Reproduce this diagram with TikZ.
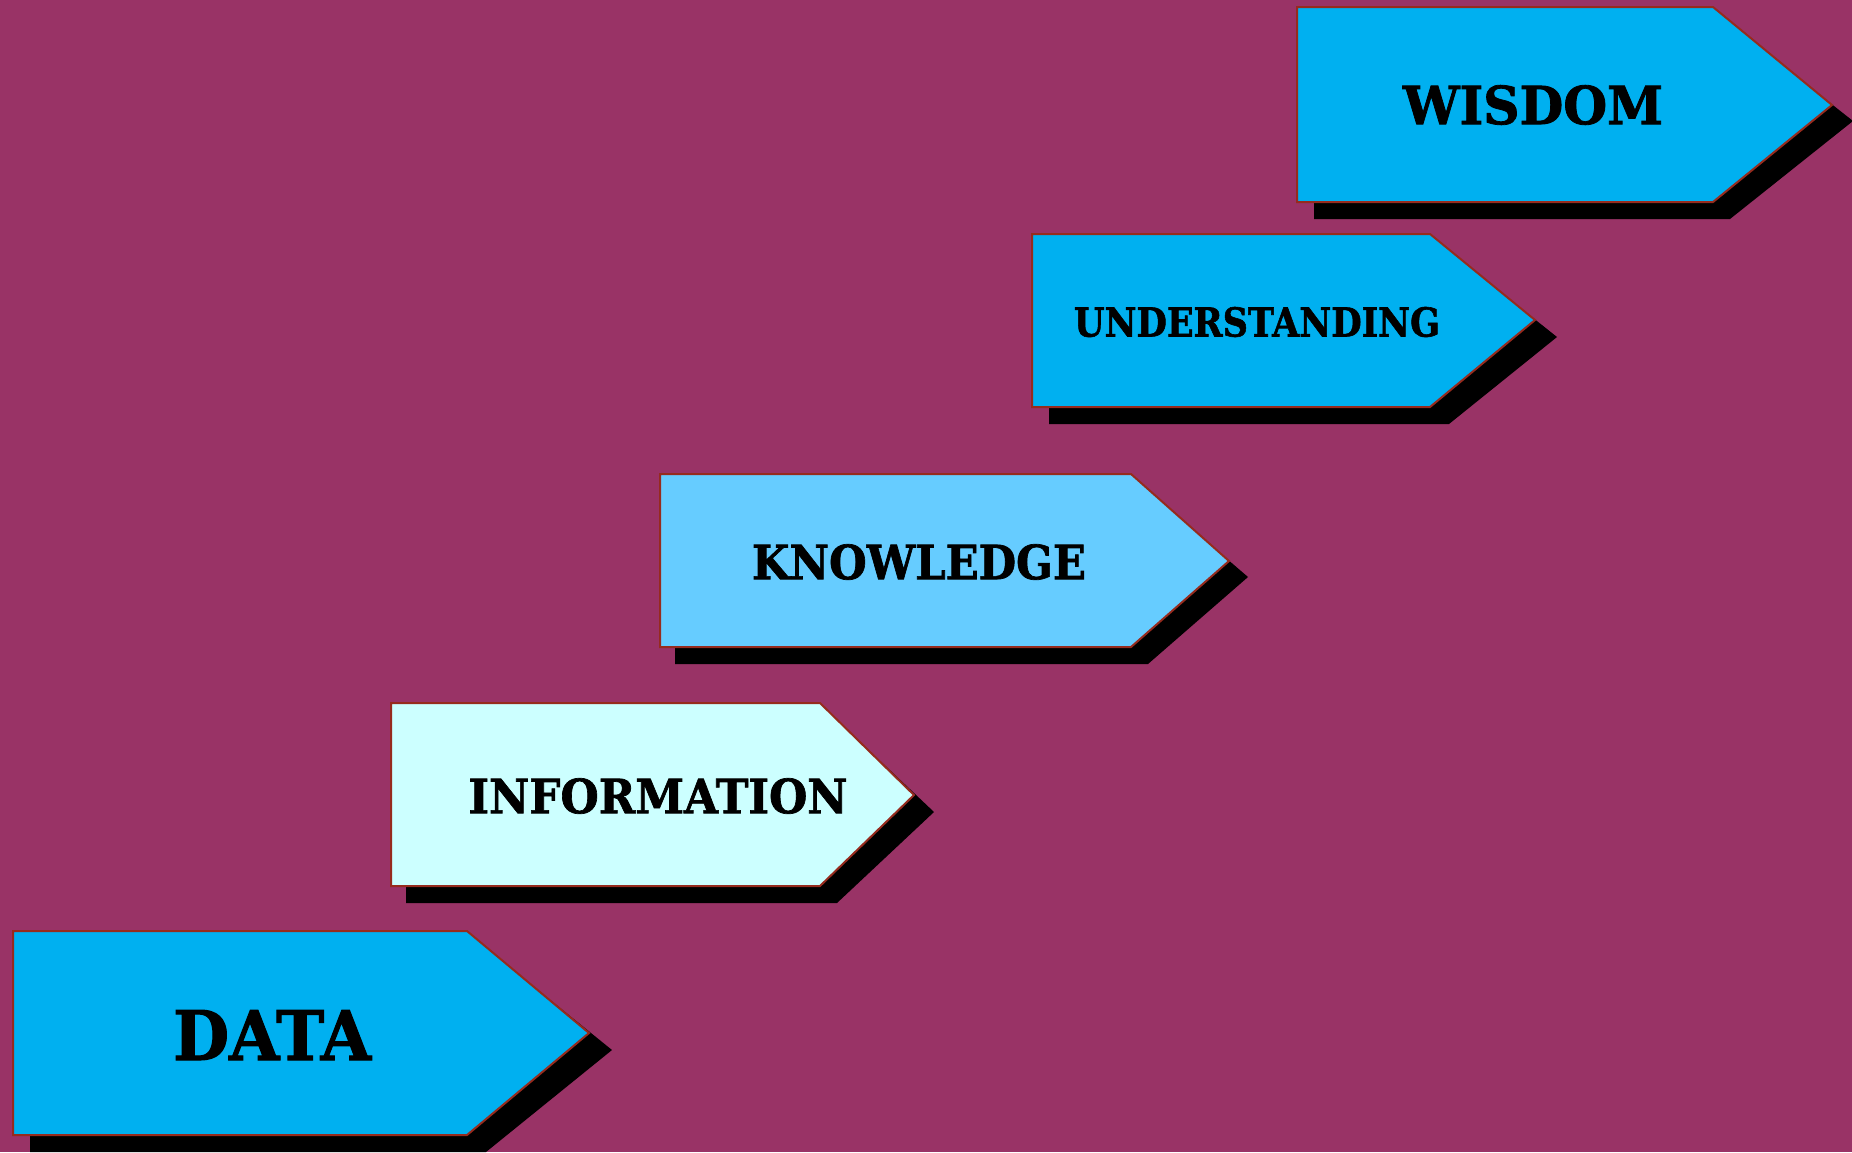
\documentclass[tikz,border=0pt]{standalone}
\usepackage{fontspec}
\setmainfont{DejaVu Serif}[BoldFeatures={FakeBold=1.5}]
\usepackage{graphicx}
\definecolor{bgplum}{HTML}{993366}
\definecolor{boxblue}{HTML}{00B0F0}
\definecolor{boxlight}{HTML}{66CCFF}
\definecolor{boxpale}{HTML}{CCFFFF}
\definecolor{edgered}{HTML}{962B1E}
\tikzset{
  shadowshape/.style={fill=black, draw=none},
  boxshape/.style={draw=edgered, line width=1pt, line join=miter},
  label/.style={inner sep=0pt, anchor=center, text=black, font=\bfseries}
}
% left, top, shoulder x, tip x, tip y, bottom
\newcommand{\pentpath}[6]{(#1,#2) -- (#3,#2) -- (#4,#5) -- (#3,#6) -- (#1,#6) -- cycle}
\begin{document}
\begin{tikzpicture}[x=0.5pt,y=-0.5pt]
\useasboundingbox (0,0) rectangle (1852,1152);
\clip (0,0) rectangle (1852,1152);
\fill[bgplum] (0,0) rectangle (1852,1152);
% WISDOM
\fill[shadowshape] \pentpath{1314}{24}{1730}{1853}{121}{219};
\filldraw[boxshape, fill=boxblue] \pentpath{1297}{7}{1713}{1832}{105}{202};
\node[label] (wisdom) at (1533,105) {\resizebox{130pt}{19.5pt}{WISDOM}};
% UNDERSTANDING
\fill[shadowshape] \pentpath{1049}{251}{1449}{1557}{337}{424};
\filldraw[boxshape, fill=boxblue] \pentpath{1032}{234}{1430}{1535}{320}{407};
\node[label] (understanding) at (1257,322) {\resizebox{183pt}{14.8pt}{UNDERSTANDING}};
% KNOWLEDGE
\fill[shadowshape] \pentpath{675}{491}{1148}{1248}{577}{664};
\filldraw[boxshape, fill=boxlight] \pentpath{660}{474}{1131}{1229}{561}{647};
\node[label] (knowledge) at (919,562) {\resizebox{167pt}{17.5pt}{KNOWLEDGE}};
% INFORMATION
\fill[shadowshape] \pentpath{406}{720}{837}{934}{812}{903};
\filldraw[boxshape, fill=boxpale] \pentpath{391}{703}{820}{914}{795}{886};
\node[label] (information) at (658,796) {\resizebox{189.5pt}{17.5pt}{INFORMATION}};
% DATA
\fill[shadowshape] \pentpath{30}{948}{486}{612}{1050}{1152};
\filldraw[boxshape, fill=boxblue] \pentpath{13}{931}{467}{589}{1033}{1135};
\node[label] (data) at (272,1035) {\resizebox{99pt}{25pt}{DATA}};
\end{tikzpicture}
\end{document}
